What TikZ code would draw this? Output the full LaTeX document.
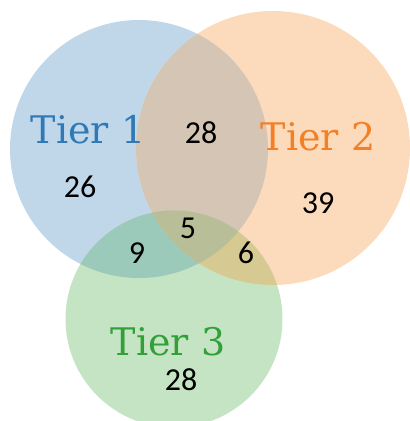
\documentclass[tikz,border=0pt]{standalone}
\usepackage{fontspec}
\newfontfamily\labelfont{DejaVu Serif}
\newfontfamily\countfont{Carlito}
\definecolor{onlyA}{RGB}{192,215,234}
\definecolor{onlyB}{RGB}{252,218,188}
\definecolor{onlyC}{RGB}{197,228,196}
\definecolor{regAB}{RGB}{212,197,180}
\definecolor{regAC}{RGB}{156,202,186}
\definecolor{regBC}{RGB}{214,201,146}
\definecolor{regABC}{RGB}{184,190,152}
\definecolor{inkA}{RGB}{47,122,182}
\definecolor{inkB}{RGB}{244,128,38}
\definecolor{inkC}{RGB}{50,160,56}
\tikzset{
  setname/.style={anchor=base, inner sep=0pt, font=\labelfont\fontsize{38}{40}\selectfont},
  count/.style={anchor=base, inner sep=0pt, font=\countfont\fontsize{32}{34}\selectfont, text=black}
}
\begin{document}
\begin{tikzpicture}[x=1pt, y=-1pt]
  \useasboundingbox (0,0) rectangle (410,421);
  \begin{scope}
    \clip (0,0) rectangle (410,421);
    % single-set areas
    \fill[onlyA] (139,149) circle (129);
    \fill[onlyB] (273,148) circle (137);
    \fill[onlyC] (174,319) circle (108.5);
    % pairwise overlaps
    \begin{scope}
      \clip (139,149) circle (129);
      \fill[regAB] (273,148) circle (137);
    \end{scope}
    \begin{scope}
      \clip (139,149) circle (129);
      \fill[regAC] (174,319) circle (108.5);
    \end{scope}
    \begin{scope}
      \clip (273,148) circle (137);
      \fill[regBC] (174,319) circle (108.5);
    \end{scope}
    % triple overlap
    \begin{scope}
      \clip (139,149) circle (129);
      \clip (273,148) circle (137);
      \fill[regABC] (174,319) circle (108.5);
    \end{scope}
  \end{scope}
  % set names
  \node[setname, text=inkA] (nameA) at (88,143) {Tier 1};
  \node[setname, text=inkB] (nameB) at (318,150) {Tier 2};
  \node[setname, text=inkC] (nameC) at (168,355) {Tier 3};
  % region counts
  \node[count] (nAB) at (201,143) {28};
  \node[count] (nA) at (80,197) {26};
  \node[count] (nB) at (318,213) {39};
  \node[count] (nABC) at (188,238) {5};
  \node[count] (nAC) at (137,263) {9};
  \node[count] (nBC) at (246,263) {6};
  \node[count] (nC) at (181,390) {28};
\end{tikzpicture}
\end{document}
